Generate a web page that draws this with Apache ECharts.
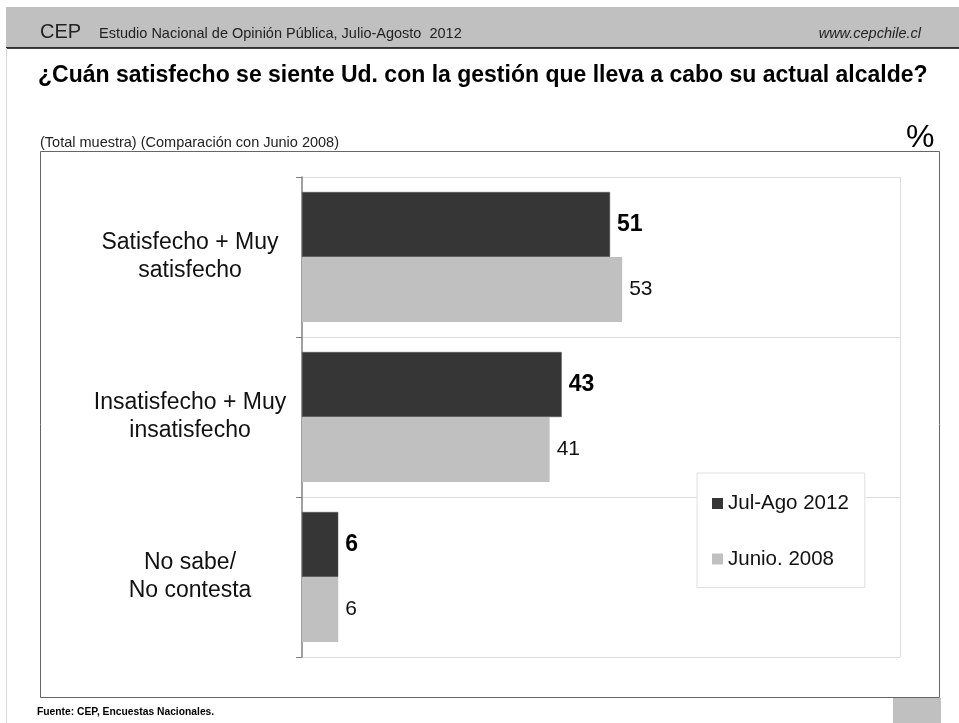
<!DOCTYPE html>
<html>
<head>
<meta charset="utf-8">
<script src="https://cdn.jsdelivr.net/npm/echarts@6/dist/echarts.min.js"></script>
<style>
html,body{margin:0;padding:0;background:#fff;}
#c{width:959px;height:723px;}
</style>
</head>
<body>
<div id="c"></div>
<script>
const categories = ['Satisfecho + Muy\nsatisfecho', 'Insatisfecho + Muy\ninsatisfecho', 'No sabe/\nNo contesta'];
const seriesNames = ['Jul-Ago 2012', 'Junio. 2008'];
const values2012 = [51, 43, 6];
const values2008 = [53, 41, 6];

const FONT = '"Liberation Sans", Arial, sans-serif';
const chart = echarts.init(document.getElementById('c'), null, {renderer: 'canvas'});

chart.setOption({
  backgroundColor: '#fff',
  animation: false,
  textStyle: {fontFamily: FONT},
  graphic: [
    {type: 'rect', shape: {x: 6, y: 7, width: 953, height: 41}, style: {fill: '#c0c0c0'}, silent: true},
    {type: 'line', shape: {x1: 6, y1: 48, x2: 959, y2: 48}, style: {stroke: '#000', lineWidth: 1.5}},
    {type: 'line', shape: {x1: 6.5, y1: 48, x2: 6.5, y2: 723}, style: {stroke: '#d8d8d8', lineWidth: 1}},
    {type: 'text', left: 40, top: 22, style: {text: 'CEP', font: '20px ' + FONT, fill: '#222'}},
    {type: 'text', left: 99, top: 26.5, style: {text: 'Estudio Nacional de Opinión Pública, Julio-Agosto  2012', font: '14.5px ' + FONT, fill: '#222'}},
    {type: 'text', right: 38, top: 26.5, style: {text: 'www.cepchile.cl', font: 'italic 14.5px ' + FONT, fill: '#222'}},
    {type: 'text', left: 38, top: 64, style: {text: '¿Cuán satisfecho se siente Ud. con la gestión que lleva a cabo su actual alcalde?', font: 'bold 23px ' + FONT, fill: '#000'}},
    {type: 'text', left: 40, top: 135, style: {text: '(Total muestra) (Comparación con Junio 2008)', font: '14.5px ' + FONT, fill: '#222'}},
    {type: 'text', left: 906, top: 122, style: {text: '%', font: '32px ' + FONT, fill: '#000'}},
    {type: 'rect', shape: {x: 40.5, y: 151.5, width: 899, height: 546}, style: {fill: 'none', stroke: '#666', lineWidth: 1}, z: 0},
    {type: 'line', shape: {x1: 900.5, y1: 177, x2: 900.5, y2: 657}, style: {stroke: '#ddd', lineWidth: 1}},
    {type: 'rect', shape: {x: 893, y: 698, width: 48, height: 25}, style: {fill: '#c0c0c0'}},
    {type: 'text', left: 37, top: 707, style: {text: 'Fuente: CEP, Encuestas Nacionales.', font: 'bold 10.3px ' + FONT, fill: '#000'}}
  ],
  grid: {left: 302, top: 177, width: 598, height: 480, containLabel: false},
  legend: {
    orient: 'vertical',
    left: 697, top: 473,
    data: seriesNames,
    icon: 'rect',
    itemWidth: 11, itemHeight: 11,
    itemGap: 34.5,
    itemTextGap: 5,
    itemStyle: {borderWidth: 0},
    padding: [20, 16, 18, 15],
    borderColor: '#e0e0e0', borderWidth: 1,
    backgroundColor: '#fff',
    textStyle: {fontSize: 20.5, color: '#111', fontFamily: FONT}
  },
  xAxis: {
    type: 'value', min: 0, max: 99,
    show: false
  },
  yAxis: {
    type: 'category', data: categories, inverse: true,
    axisLine: {show: true, lineStyle: {color: '#808080', width: 1.5}},
    axisTick: {show: true, length: 6, lineStyle: {color: '#808080'}},
    splitLine: {show: true, lineStyle: {color: '#ddd', width: 1}},
    axisLabel: {fontSize: 23, color: '#111', align: 'center', margin: 112, lineHeight: 28, fontFamily: FONT}
  },
  series: [
    {
      name: seriesNames[0], type: 'bar', data: values2012,
      barGap: '0%', barCategoryGap: '18.75%',
      itemStyle: {color: '#363636', borderColor: '#555', borderWidth: 0.5},
      label: {show: true, position: 'right', distance: 7, fontSize: 23, fontWeight: 'bold', color: '#000', fontFamily: FONT}
    },
    {
      name: seriesNames[1], type: 'bar', data: values2008,
      barGap: '0%', barCategoryGap: '18.75%',
      itemStyle: {color: '#c0c0c0'},
      label: {show: true, position: 'right', distance: 7, fontSize: 21, color: '#111', fontFamily: FONT}
    }
  ]
});
</script>
</body>
</html>
